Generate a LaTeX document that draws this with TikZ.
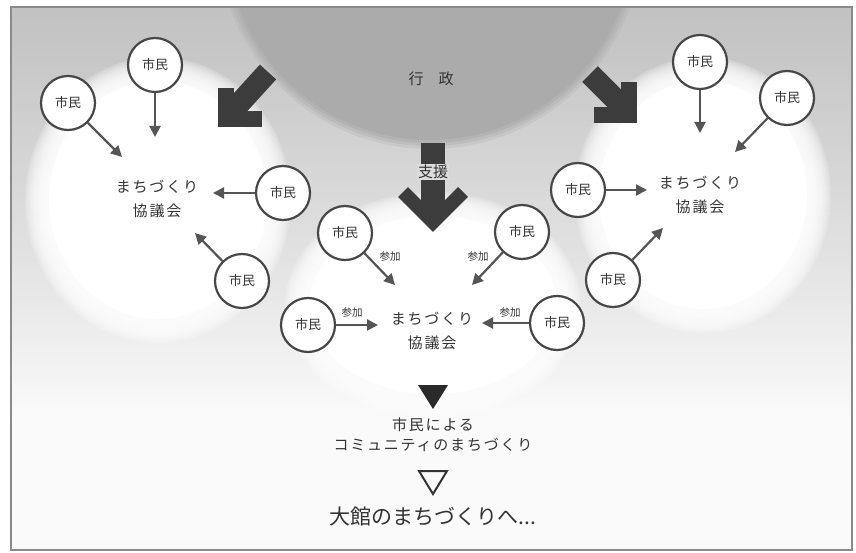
\documentclass[tikz,border=0pt]{standalone}
\usepackage{fontspec}
\setmainfont{Noto Sans CJK JP}
\newfontfamily\jpsp[LetterSpace=12]{Noto Sans CJK JP}
\usetikzlibrary{arrows.meta}
\definecolor{txt}{HTML}{333333}
\definecolor{ink}{HTML}{474747}
\definecolor{arrowc}{HTML}{555555}
\definecolor{heavy}{HTML}{3C3C3C}
\definecolor{govgray}{HTML}{ABABAB}
\definecolor{bgtop}{HTML}{C2C2C2}
\definecolor{bgmid}{HTML}{DCDCDC}
\definecolor{bgbot}{HTML}{FAFAFA}
\definecolor{framec}{HTML}{8A8A8A}
\tikzset{
  cit/.style={circle, draw=ink, line width=2.2pt, fill=white, minimum size=54pt, inner sep=0pt,
    font=\fontsize{13}{13}\selectfont, text=txt},
  conn/.style={draw=arrowc, line width=2.2pt, -{Triangle[length=11pt,width=11pt]}},
  council/.style={align=center, inner sep=0pt, font=\jpsp\fontsize{15}{24}\selectfont, text=txt},
  joinlbl/.style={inner sep=0pt, font=\fontsize{10.5}{10.5}\selectfont, text=txt},
  heavyshaft/.style={draw=heavy, line cap=butt},
  heavyhead/.style={draw=heavy, line cap=butt, line join=miter}
}
\begin{document}
\begin{tikzpicture}[x=1pt,y=-1pt]
\useasboundingbox (0,0) rectangle (856,553);
\fill[white] (0,0) rectangle (856,553);
\begin{scope}
\clip (11,7) rectangle (852,550);
% background gradient (strips)
\foreach \i in {0,...,108}{
  \pgfmathsetmacro\yy{7+5*\i}
  \pgfmathsetmacro\pp{min(100,100*((\yy-7)/410)^1.1)}
  \fill[bgbot!\pp!bgtop] (11,\yy) rectangle (852,{\yy+5.6});
}
% government circle (soft edge)
\foreach \r/\o in {212/0.25,209/0.35,206/0.5,203/1}
  \fill[govgray, opacity=\o] (430,-63) circle [radius=\r];
% white blobs (soft edges)
\foreach \cx/\cy/\rx/\ry in {158/200/125/135, 703/195/120/130, 433/305/140/105}{
  \foreach \k in {0,...,11}
    \fill[white, opacity=0.2] (\cx,\cy) ellipse [x radius={\rx+8-2*\k}, y radius={\ry+8-2*\k}];
  \fill[white] (\cx,\cy) ellipse [x radius={\rx-16}, y radius={\ry-16}];
}
\end{scope}
\draw[framec, line width=2pt] (11,7) rectangle (852,550);

% government label
\node[font=\fontsize{15}{15}\selectfont, text=txt] (gov) at (431,79) {行　政};

% heavy arrows
\draw[heavyshaft, line width=22pt] (268,72) -- (228,116);
\draw[heavyhead, line width=16pt] (226,88) -- (226,119) -- (262,119);
\draw[heavyshaft, line width=22pt] (590,74) -- (627,111);
\draw[heavyhead, line width=16pt] (629,82) -- (629,115) -- (594,115);
\draw[heavyshaft, line width=24pt] (433,143) -- (433,215);
\draw[heavyhead, line width=14pt] (403,192) -- (433,222) -- (463,192);
\node[fill=bgmid, inner sep=1pt, font=\fontsize{15}{15}\selectfont, text=txt] (support) at (433,172) {支援};

% left cluster
\node[council] (lc) at (157,199) {まちづくり\\協議会};
\node[cit] (l1) at (155,65) {市民};
\node[cit] (l2) at (68,103) {市民};
\node[cit] (l3) at (283,193) {市民};
\node[cit] (l4) at (242,281) {市民};
\coordinate (lt1) at (155,137);
\coordinate (lt2) at (122,157);
\coordinate (lt3) at (213,193);
\coordinate (lt4) at (195,233);
\draw[conn] (l1) -- (lt1);
\draw[conn] (l2) -- (lt2);
\draw[conn] (l3) -- (lt3);
\draw[conn] (l4) -- (lt4);

% right cluster
\node[council] (rc) at (700,195) {まちづくり\\協議会};
\node[cit] (r1) at (700,62) {市民};
\node[cit] (r2) at (787,98) {市民};
\node[cit] (r3) at (578,190) {市民};
\node[cit] (r4) at (613,280) {市民};
\coordinate (rt1) at (700,133);
\coordinate (rt2) at (735,152);
\coordinate (rt3) at (647,190);
\coordinate (rt4) at (663,228);
\draw[conn] (r1) -- (rt1);
\draw[conn] (r2) -- (rt2);
\draw[conn] (r3) -- (rt3);
\draw[conn] (r4) -- (rt4);

% center cluster
\node[council] (cc) at (432,331) {まちづくり\\協議会};
\node[cit] (c1) at (345,233) {市民};
\node[cit] (c2) at (522,232) {市民};
\node[cit] (c3) at (308,325) {市民};
\node[cit] (c4) at (557,323) {市民};
\coordinate (ct1) at (395,285);
\coordinate (ct2) at (472,285);
\coordinate (ct3) at (378,325);
\coordinate (ct4) at (482,323);
\draw[conn] (c1) -- (ct1);
\draw[conn] (c2) -- (ct2);
\draw[conn] (c3) -- (ct3);
\draw[conn] (c4) -- (ct4);
\node[joinlbl] (j1) at (390,257) {参加};
\node[joinlbl] (j2) at (478,257) {参加};
\node[joinlbl] (j3) at (352,313) {参加};
\node[joinlbl] (j4) at (510,313) {参加};

% bottom flow
\fill[heavy!70!black] (418,385) -- (448,385) -- (433,409) -- cycle;
\node[align=center, inner sep=0pt, font=\jpsp\fontsize{15}{20}\selectfont, text=txt] (community) at (433,435) {市民による\\コミュニティのまちづくり};
\draw[txt, line width=2pt, line join=miter] (419,471) -- (447,471) -- (433,494) -- cycle;
\node[inner sep=0pt, font=\fontsize{21}{21}\selectfont, text=txt] (odate) at (433,517) {大館のまちづくりへ...};
\end{tikzpicture}
\end{document}
